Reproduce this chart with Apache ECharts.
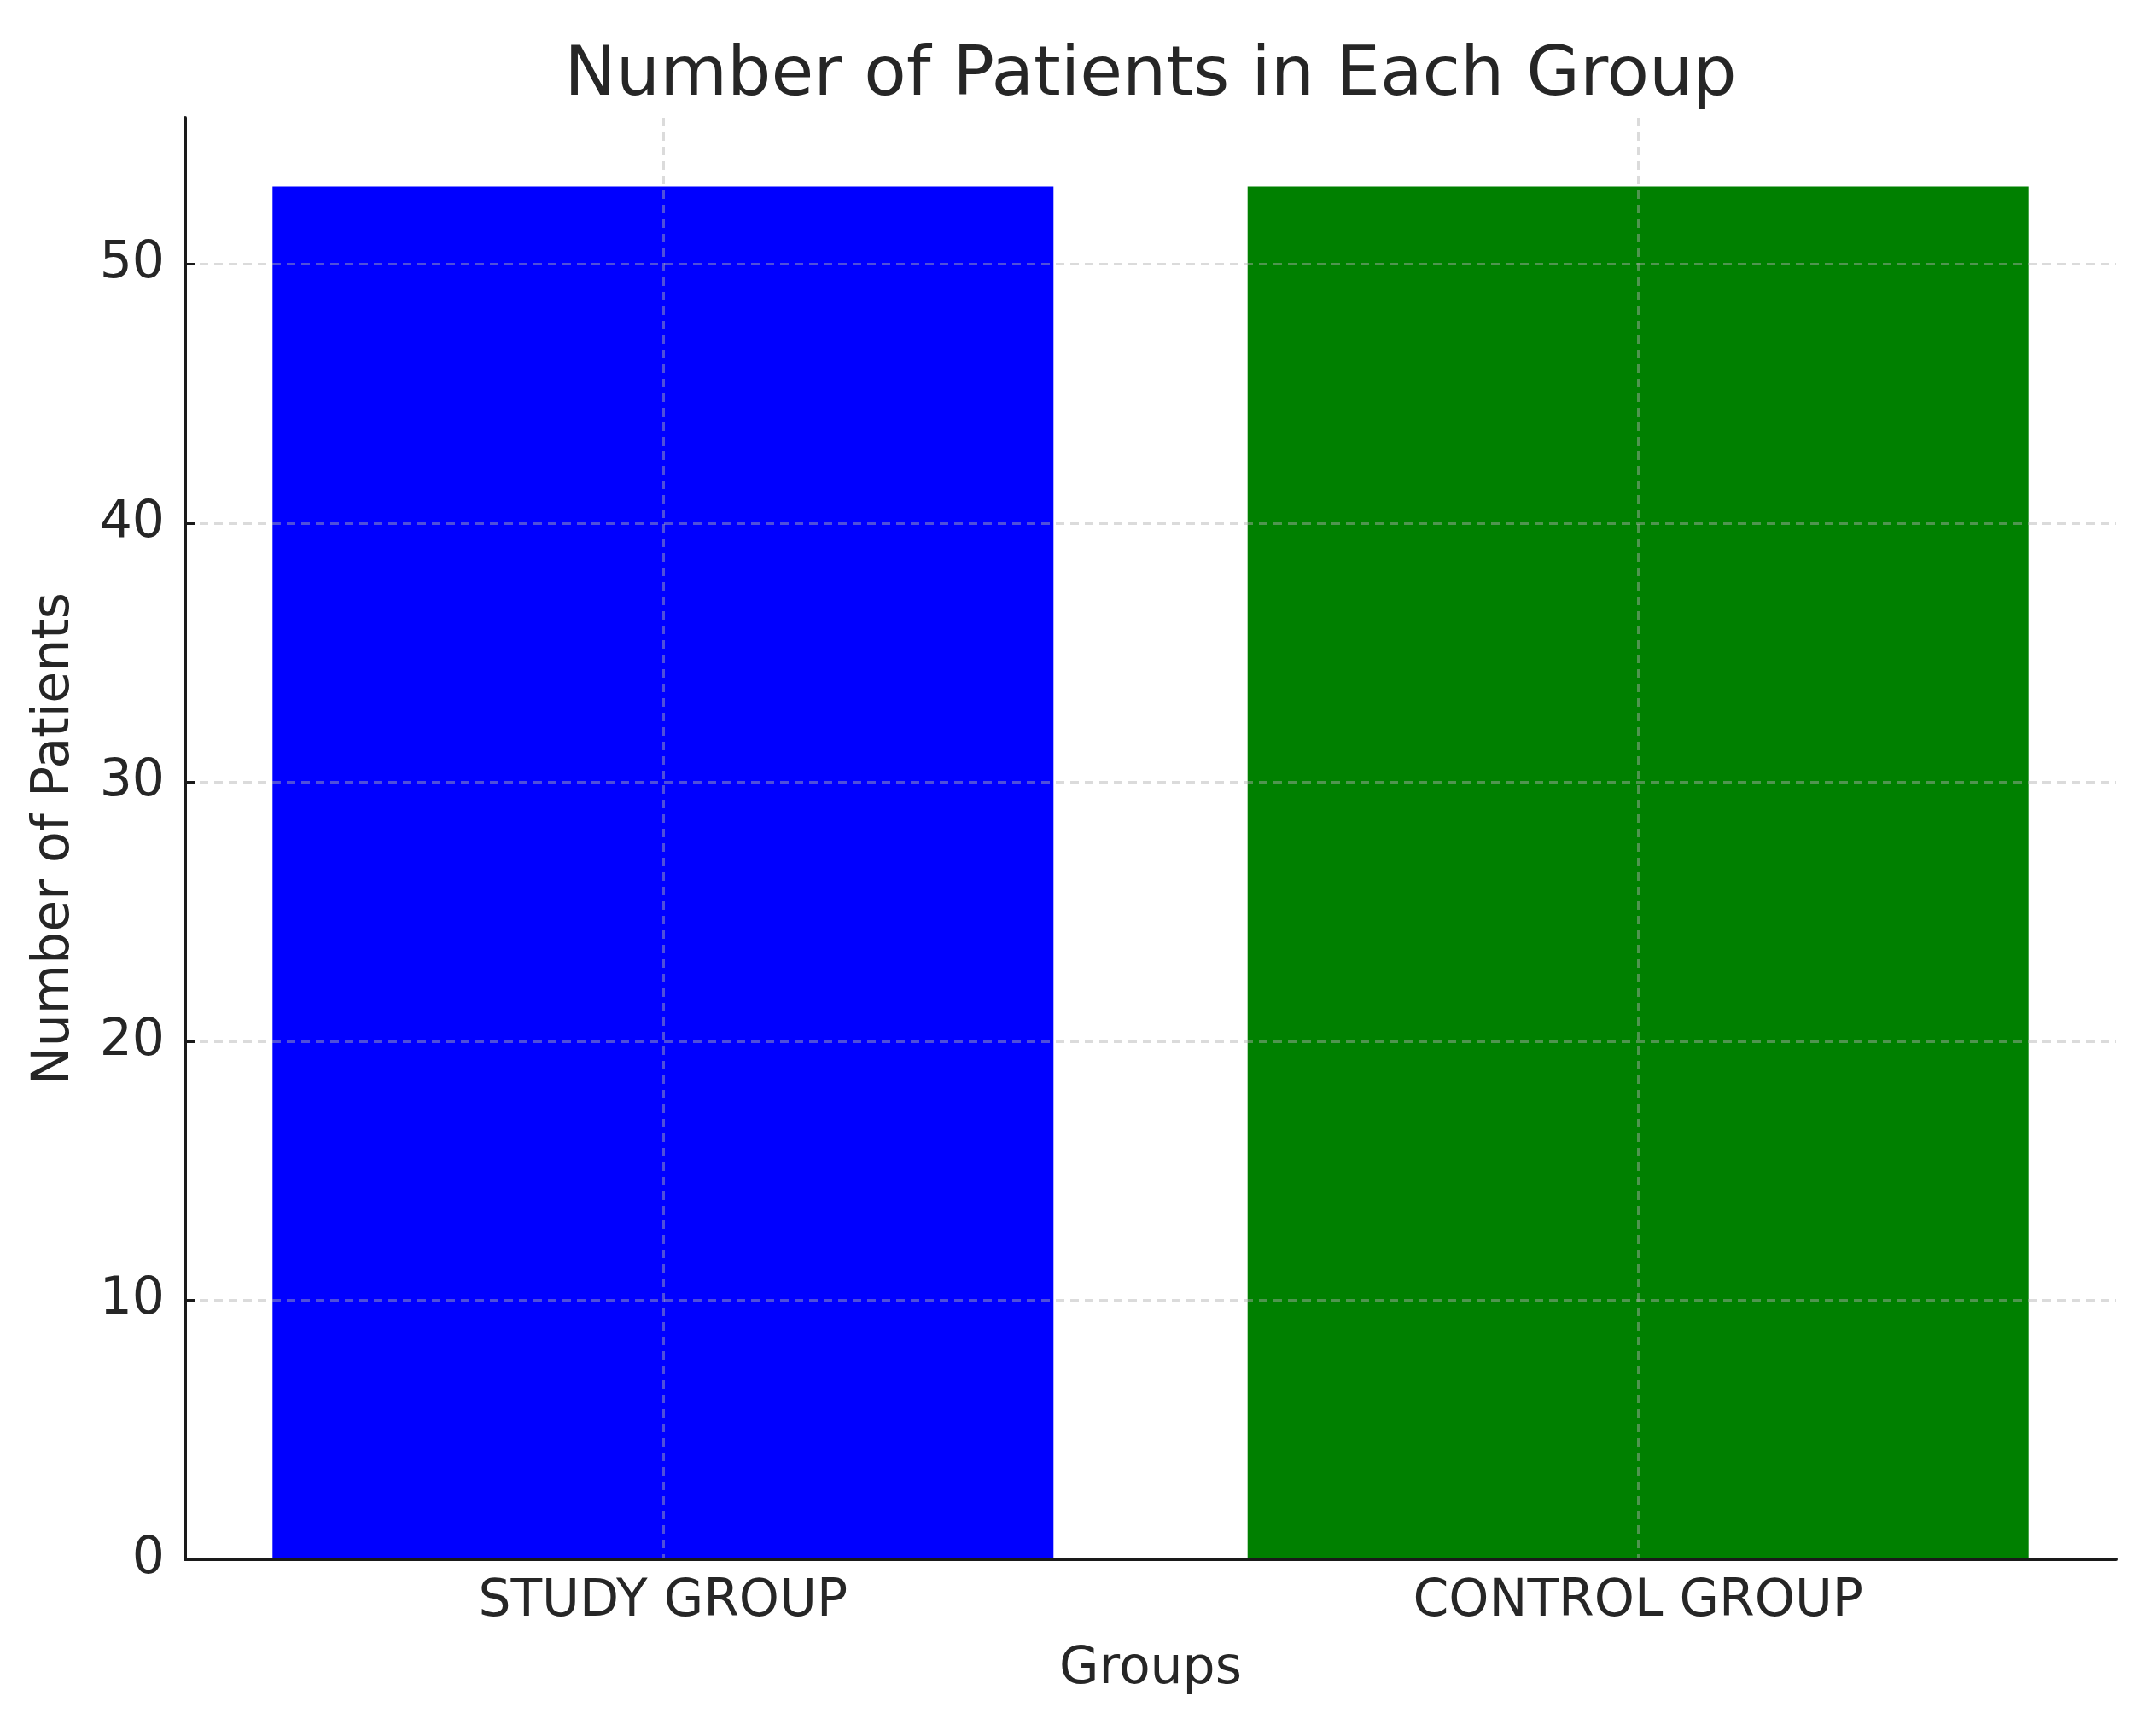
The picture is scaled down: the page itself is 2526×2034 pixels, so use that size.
<!DOCTYPE html>
<html>
<head>
<meta charset="utf-8">
<script src="https://cdn.jsdelivr.net/npm/echarts@6/dist/echarts.min.js"></script>
<style>
  html, body { margin: 0; padding: 0; background: #fff; }
  #myChart { width: 2526px; height: 2034px; }
</style>
</head>
<body>
<div id="myChart"></div>
<script>
  // data
  var groups = ['STUDY GROUP', 'CONTROL GROUP'];
  var patients = [53, 53];
  var barColors = ['#0000ff', '#008000'];
  var yTicks = [0, 10, 20, 30, 40, 50];
  var xTicks = [0, 1]; // one per group

  var font = 'DejaVu Sans';
  var textColor = '#262626';
  var gridLine = {
    show: true,
    lineStyle: { color: 'rgba(176,176,176,0.45)', width: 3, type: [10, 7] }
  };

  var myChart = echarts.init(document.getElementById('myChart'));
  var option = {
    backgroundColor: '#fff',
    animation: false,
    title: {
      text: 'Number of Patients in Each Group',
      left: 1343,
      textAlign: 'center',
      top: 44,
      textStyle: { fontFamily: font, fontSize: 81, fontWeight: 'normal', color: textColor }
    },
    grid: { left: 217, right: 47, top: 138, bottom: 207, containLabel: false },
    xAxis: {
      type: 'value',
      min: -0.49,
      max: 1.49,
      zlevel: 1,
      name: 'Groups',
      nameLocation: 'middle',
      nameGap: 99,
      nameTextStyle: { fontFamily: font, fontSize: 60, color: textColor },
      axisLine: { show: true, onZero: false, lineStyle: { color: '#1a1a1a', width: 4 } },
      axisTick: { show: false, customValues: xTicks },
      axisLabel: {
        fontFamily: font, fontSize: 60, color: textColor, margin: 20,
        customValues: xTicks,
        formatter: function (v) { return groups[Math.round(v)]; }
      },
      splitLine: gridLine
    },
    yAxis: {
      type: 'value',
      min: 0,
      max: 55.65,
      interval: 10,
      zlevel: 1,
      name: 'Number of Patients',
      nameLocation: 'middle',
      nameGap: 123,
      nameTextStyle: { fontFamily: font, fontSize: 60, color: textColor },
      axisLine: { show: true, onZero: false, lineStyle: { color: '#1a1a1a', width: 4 } },
      axisTick: { show: true, inside: true, length: 12, customValues: yTicks, lineStyle: { color: '#1a1a1a', width: 3 } },
      axisLabel: { fontFamily: font, fontSize: 60, color: textColor, margin: 24, customValues: yTicks },
      splitLine: gridLine
    },
    series: [{
      type: 'bar',
      barWidth: 915,
      data: patients.map(function (v, i) {
        return { value: [i, v], itemStyle: { color: barColors[i] } };
      })
    }]
  };
  myChart.setOption(option);
</script>
</body>
</html>
